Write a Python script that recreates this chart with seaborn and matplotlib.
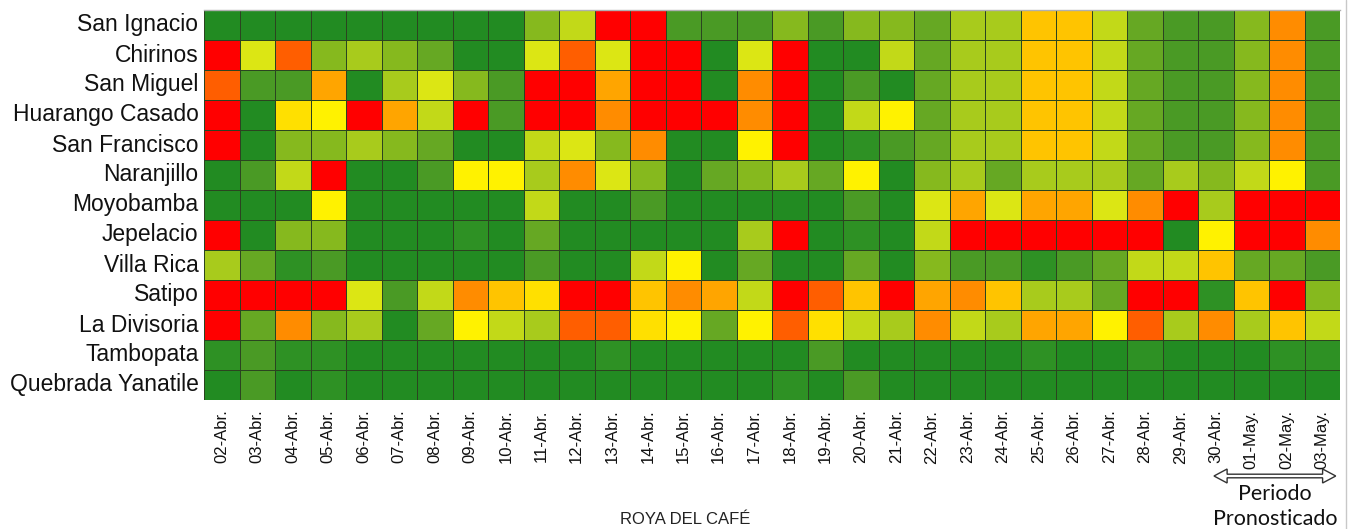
import numpy as np
import pandas as pd
import matplotlib
matplotlib.use("Agg")
import matplotlib.pyplot as plt
from matplotlib.colors import ListedColormap
from matplotlib.patches import Polygon
from matplotlib import transforms
import seaborn as sns

# ---- data: risk level per station and day (0 = low / green ... 14 = high / red)
stations = ["San Ignacio", "Chirinos", "San Miguel", "Huarango Casado",
            "San Francisco", "Naranjillo", "Moyobamba", "Jepelacio",
            "Villa Rica", "Satipo", "La Divisoria", "Tambopata",
            "Quebrada Yanatile"]

dates = [f"{d:02d}-Abr." for d in range(2, 31)] + ["01-May.", "02-May.", "03-May."]

san_ignacio = [0, 0, 0, 0, 0, 0, 0, 0, 0, 4, 6, 14, 14, 2, 2, 2, 4, 2, 4, 4, 3, 5, 5, 10, 10, 6, 3, 2, 2, 4, 12, 2]
chirinos = [14, 7, 13, 4, 5, 4, 3, 0, 0, 7, 13, 7, 14, 14, 0, 7, 14, 0, 0, 6, 3, 5, 5, 10, 10, 6, 3, 2, 2, 4, 12, 2]
san_miguel = [13, 2, 2, 11, 0, 5, 7, 4, 2, 14, 14, 11, 14, 14, 0, 12, 14, 0, 2, 0, 3, 5, 5, 10, 10, 6, 3, 2, 2, 4, 12, 2]
huarango = [14, 0, 9, 8, 14, 11, 6, 14, 2, 14, 14, 12, 14, 14, 14, 12, 14, 0, 6, 8, 3, 5, 5, 10, 10, 6, 3, 2, 2, 4, 12, 2]
san_francisco = [14, 0, 4, 4, 5, 4, 3, 0, 0, 6, 7, 4, 12, 0, 0, 8, 14, 0, 1, 2, 3, 5, 5, 10, 10, 6, 3, 2, 2, 4, 12, 2]
naranjillo = [0, 2, 6, 14, 0, 0, 2, 8, 8, 5, 12, 7, 4, 0, 3, 4, 5, 3, 8, 0, 4, 5, 3, 5, 5, 5, 3, 5, 4, 6, 8, 2]
moyobamba = [0, 0, 0, 8, 0, 0, 0, 0, 0, 6, 0, 0, 2, 0, 0, 0, 0, 0, 2, 0, 7, 11, 7, 11, 11, 7, 12, 14, 5, 14, 14, 14]
jepelacio = [14, 0, 4, 4, 0, 0, 0, 1, 0, 3, 0, 0, 0, 0, 0, 5, 14, 0, 1, 0, 6, 14, 14, 14, 14, 14, 14, 0, 8, 14, 14, 12]
villa_rica = [5, 3, 1, 2, 0, 0, 0, 0, 0, 2, 0, 0, 6, 8, 0, 3, 0, 0, 3, 0, 4, 2, 2, 1, 2, 3, 6, 6, 10, 3, 3, 2]
satipo = [14, 14, 14, 14, 7, 2, 6, 12, 10, 9, 14, 14, 10, 12, 11, 6, 14, 13, 10, 14, 11, 12, 10, 5, 5, 3, 14, 14, 1, 10, 14, 4]
la_divisoria = [14, 3, 12, 4, 5, 0, 3, 8, 6, 5, 13, 13, 9, 8, 3, 8, 13, 9, 6, 5, 12, 6, 5, 11, 11, 8, 13, 5, 12, 5, 10, 6]
tambopata = [1, 2, 1, 1, 0, 0, 0, 0, 0, 0, 0, 1, 0, 0, 0, 0, 0, 2, 0, 0, 0, 0, 0, 1, 0, 0, 1, 0, 0, 0, 1, 1]
quebrada = [0, 2, 0, 1, 0, 0, 0, 0, 0, 0, 0, 0, 0, 0, 0, 0, 1, 0, 2, 0, 0, 0, 0, 0, 0, 0, 0, 0, 0, 0, 0, 0]

levels = pd.DataFrame(
    [san_ignacio, chirinos, san_miguel, huarango, san_francisco, naranjillo,
     moyobamba, jepelacio, villa_rica, satipo, la_divisoria, tambopata, quebrada],
    index=stations, columns=dates)

palette = ["#228B22", "#2E9124", "#4A9A25", "#66A823", "#86B91E", "#A8CB1C",
           "#C2D918", "#DCE614", "#FFF200", "#FFE000", "#FFC400", "#FFA500",
           "#FF8C00", "#FF5E00", "#FF0000"]
cmap = ListedColormap(palette)

# forecast window (first and last forecast day) and label
forecast_start, forecast_end = "30-Abr.", "03-May."
forecast_label = ["Periodo", "Pronosticado"]

# ---- figure
sns.set_theme(style="white")
plt.rcParams["font.family"] = ["Liberation Sans", "DejaVu Sans"]

W, H = 1352, 529
fig = plt.figure(figsize=(W / 100, H / 100), dpi=100)
ax = fig.add_axes([204 / W, 1 - 400 / H, 1136 / W, 390 / H])

sns.heatmap(levels, ax=ax, cmap=cmap, vmin=-0.5, vmax=len(palette) - 0.5,
            cbar=False, linewidths=0.6, linecolor="#2b4420", square=False)

ax.set_xlabel("")
ax.set_ylabel("")
ax.tick_params(axis="both", length=0)
ax.tick_params(axis="y", pad=4, labelsize=16.5)
ax.tick_params(axis="x", pad=7, labelsize=12)
plt.setp(ax.get_yticklabels(), rotation=0, color="#111111")
plt.setp(ax.get_xticklabels(), rotation=90, color="#111111")

ax.spines["top"].set_visible(True)
ax.spines["top"].set_color("#b0b0b0")
ax.spines["top"].set_linewidth(1.0)

fig.text(685 / W, 1 - 519 / H, "ROYA DEL CAFÉ", ha="center", va="center",
         fontsize=12, color="#222222")

# hollow double-headed arrow under the forecast days
blend = transforms.blended_transform_factory(ax.transData, fig.transFigure)
x0 = dates.index(forecast_start) + 0.45
x1 = dates.index(forecast_end) + 0.88
yc = 1 - 476 / H
hl = 0.37                 # head length, in cells
hw = 7 / H                # head half height
bw = 1.8 / H              # body half height
verts = [(x0, yc), (x0 + hl, yc + hw), (x0 + hl, yc + bw), (x1 - hl, yc + bw),
         (x1 - hl, yc + hw), (x1, yc), (x1 - hl, yc - hw), (x1 - hl, yc - bw),
         (x0 + hl, yc - bw), (x0 + hl, yc - hw)]
fig.add_artist(Polygon(verts, closed=True, transform=blend, fc="white",
                       ec="#333333", lw=1.0, clip_on=False))

xc = (x0 + x1) / 2
for txt, ypix in zip(forecast_label, [494, 519]):
    ax.text(xc, 1 - ypix / H, txt, transform=blend, ha="center", va="center",
            fontsize=15.5, family=["Lato", "DejaVu Sans"], color="#111111",
            clip_on=False)

fig.add_artist(plt.Line2D([1346 / W, 1346 / W], [0, 1],
                          transform=fig.transFigure, color="#c8c8c8", lw=1.0))

fig.savefig("out.png", dpi=100)
